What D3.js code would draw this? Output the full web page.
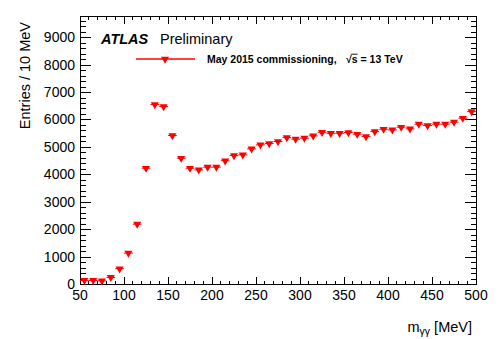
<!DOCTYPE html>
<html><head><meta charset="utf-8">
<script src="https://cdn.jsdelivr.net/npm/d3@7"></script>
<style>
body{margin:0;background:#fff;}
text{font-family:"Liberation Sans",Arial,Helvetica,sans-serif;}
</style></head>
<body><svg id="c" width="500" height="339"></svg>
<script>
const binCenters = [55,65,75,85,95,105,115,125,135,145,155,165,175,185,195,205,215,225,235,245,255,265,275,285,295,305,315,325,335,345,355,365,375,385,395,405,415,425,435,445,455,465,475,485,495];
const entries = [150,150,135,258,574,1145,2200,4240,6560,6487,5430,4605,4240,4180,4280,4280,4510,4700,4727,4945,5090,5140,5213,5357,5300,5335,5420,5550,5515,5515,5540,5480,5395,5576,5662,5637,5735,5674,5845,5795,5845,5845,5918,6063,6304];
const binHalfWidth = 5;
const xTicks = [50,100,150,200,250,300,350,400,450,500];
const yTicks = [0,1000,2000,3000,4000,5000,6000,7000,8000,9000];
const xDomain = [50,500];
const yDomain = [0,9790];
const legendLabel = "May 2015 commissioning,";
const energyLabel = " = 13 TeV";

const L=80, R=476, T=16, B=284.5;
const svg = d3.select("#c");
const x = d3.scaleLinear().domain(xDomain).range([L,R]);
const y = d3.scaleLinear().domain(yDomain).range([B,T]);

const xMinor = d3.range(xDomain[0], xDomain[1]+0.1, 10);
const yMinor = d3.range(0, yDomain[1], 200);

const g = svg.append("g").attr("stroke","#000").attr("stroke-width",1).attr("shape-rendering","crispEdges");
g.append("rect").attr("x",L).attr("y",T).attr("width",R-L).attr("height",B-T).attr("fill","none");
xMinor.forEach(v=>{
  const major = xTicks.includes(v);
  const len = major?8:4;
  g.append("line").attr("x1",x(v)).attr("x2",x(v)).attr("y1",B).attr("y2",B-len);
  g.append("line").attr("x1",x(v)).attr("x2",x(v)).attr("y1",T).attr("y2",T+len);
});
yMinor.forEach(v=>{
  const major = yTicks.includes(v);
  const len = major?11:5.5;
  g.append("line").attr("y1",y(v)).attr("y2",y(v)).attr("x1",L).attr("x2",L+len);
  g.append("line").attr("y1",y(v)).attr("y2",y(v)).attr("x1",R).attr("x2",R-len);
});

svg.append("g").selectAll("text").data(xTicks).join("text")
  .attr("x",d=>x(d)).attr("y",300).attr("text-anchor","middle")
  .attr("font-size",14).text(d=>d);
svg.append("g").selectAll("text").data(yTicks).join("text")
  .attr("x",75).attr("y",d=>y(d)+4.5).attr("text-anchor","end")
  .attr("font-size",14).text(d=>d);

svg.append("text").attr("transform","translate(30,22) rotate(-90)")
  .attr("text-anchor","end").attr("font-size",14.5).text("Entries / 10 MeV");
const xt = svg.append("text").attr("x",472).attr("y",332).attr("text-anchor","end").attr("font-size",14.5);
xt.append("tspan").text("m");
xt.append("tspan").attr("font-size",10.5).attr("dy",3).text("γγ");
xt.append("tspan").attr("dy",-3).text(" [MeV]");

const red = "#ff0000";
const tri = d3.symbol().type(d3.symbolTriangle).size(28);
const pts = svg.append("g");
binCenters.forEach((c,i)=>{
  pts.append("line").attr("x1",x(c-binHalfWidth)).attr("x2",x(c+binHalfWidth))
    .attr("y1",y(entries[i])).attr("y2",y(entries[i])).attr("stroke",red).attr("stroke-width",1);
});
pts.selectAll("path").data(binCenters).join("path")
  .attr("d",tri).attr("fill",red)
  .attr("transform",(c,i)=>`translate(${x(c)},${y(entries[i])}) rotate(180)`);

svg.append("text").attr("x",101).attr("y",44).attr("font-size",14.5).attr("font-weight","bold").attr("font-style","italic").text("ATLAS");
svg.append("text").attr("x",160).attr("y",44).attr("font-size",14.5).text("Preliminary");

svg.append("line").attr("x1",136).attr("x2",195).attr("y1",59).attr("y2",59).attr("stroke",red).attr("stroke-width",1.5);
svg.append("path").attr("d",tri).attr("fill",red).attr("transform","translate(165,59) rotate(180)");
svg.append("text").attr("x",207).attr("y",63).attr("font-size",10.5).attr("font-weight","bold").text(legendLabel);
const ex = 346;
const et = svg.append("text").attr("x",ex).attr("y",63).attr("font-size",10.5).attr("font-weight","bold");
et.append("tspan").text("√");
const sTs = et.append("tspan").text("s");
et.append("tspan").text(energyLabel);
const bb = et.node().getBBox();
const sw = sTs.node().getComputedTextLength();
const rootW = et.node().getSubStringLength(0,1);
svg.append("line").attr("x1",ex+rootW-0.5).attr("x2",ex+rootW+sw).attr("y1",bb.y+1.2).attr("y2",bb.y+1.2)
  .attr("stroke","#000").attr("stroke-width",0.9);
</script></body></html>
